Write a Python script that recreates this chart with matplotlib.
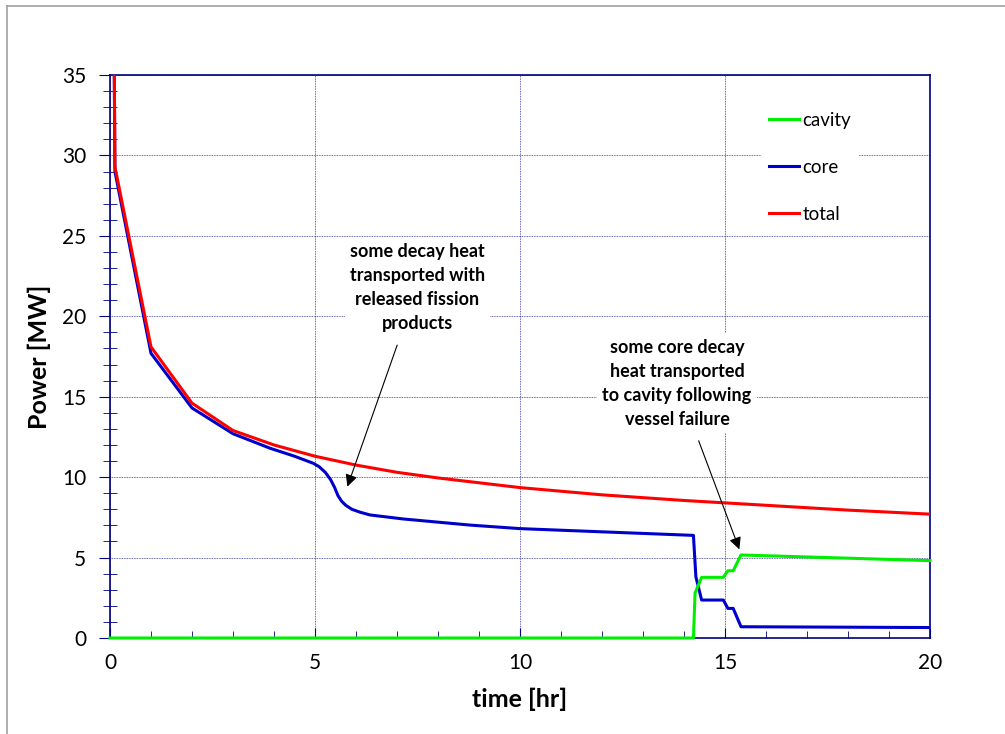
import matplotlib.pyplot as plt
from matplotlib.lines import Line2D
from matplotlib.ticker import MultipleLocator

plt.rcParams['font.family'] = ['Lato', 'DejaVu Sans']

# time [hr] and power [MW]
t_total = [0.08, 0.12, 1.0, 2.0, 3.0, 4.0, 5.0, 6.0, 7.0, 8.0, 10.0, 12.0,
           14.0, 16.0, 18.0, 20.0]
p_total = [45.0, 29.3, 18.1, 14.6, 12.9, 12.0, 11.3, 10.75, 10.3, 9.95, 9.35,
           8.9, 8.55, 8.25, 7.95, 7.7]

t_core = [0.08, 0.12, 1.0, 2.0, 3.0, 3.9, 4.5, 4.96, 5.1, 5.25, 5.38, 5.48,
          5.56, 5.65, 5.75, 5.9, 6.1, 6.34, 7.15, 8.78, 10.0, 12.0, 14.23,
          14.29, 14.43, 14.96, 15.07, 15.2, 15.39, 20.0]
p_core = [45.0, 29.0, 17.7, 14.3, 12.7, 11.8, 11.3, 10.86, 10.65, 10.3,
          9.85, 9.35, 8.85, 8.5, 8.25, 8.0, 7.82, 7.65, 7.4, 7.02, 6.8, 6.6,
          6.38, 3.8, 2.36, 2.36, 1.84, 1.84, 0.7, 0.65]

t_cavity = [0.0, 14.23, 14.27, 14.43, 14.96, 15.07, 15.2, 15.39, 20.0]
p_cavity = [0.0, 0.0, 2.8, 3.77, 3.77, 4.18, 4.18, 5.16, 4.81]

NAVY = "#000080"

fig = plt.figure(figsize=(10.05, 7.34), dpi=100)
ax = fig.add_axes([110 / 1005, 1 - 638 / 734, 820 / 1005, 563 / 734])

# chart area border
fig.add_artist(Line2D([7 / 1005, 7 / 1005], [0, 1 - 6 / 734], color="#a0a0a0", lw=1.2))
fig.add_artist(Line2D([7 / 1005, 1], [1 - 6 / 734, 1 - 6 / 734], color="#a0a0a0", lw=1.2))

ax.plot(t_cavity, p_cavity, color="#00ee00", lw=2.2, label="cavity", zorder=4, clip_on=False)
ax.plot(t_core, p_core, color="#0000cc", lw=2.2, label="core", zorder=3)
ax.plot(t_total, p_total, color="#ff0000", lw=2.2, label="total", zorder=3)

ax.set_xlim(0, 20)
ax.set_ylim(0, 35)
ax.xaxis.set_major_locator(MultipleLocator(5))
ax.xaxis.set_minor_locator(MultipleLocator(1))
ax.yaxis.set_major_locator(MultipleLocator(5))
ax.yaxis.set_minor_locator(MultipleLocator(1))

ax.grid(True, which="major", color=NAVY, linestyle=(0, (1, 1)), linewidth=0.6, alpha=0.8)
for s in ax.spines.values():
    s.set_color(NAVY)
    s.set_linewidth(1.2)
ax.tick_params(axis="x", which="major", direction="in", length=7, color=NAVY,
               labelsize=15, pad=11)
ax.tick_params(axis="x", which="minor", direction="in", length=5, color=NAVY)
ax.tick_params(axis="y", which="major", direction="out", length=8, color=NAVY,
               labelsize=15, pad=9)
ax.tick_params(axis="y", which="minor", direction="inout", length=10, color=NAVY)

ax.set_xlabel("time [hr]", fontsize=18, fontweight="bold", labelpad=10)
ax.set_ylabel("Power [MW]", fontsize=18, fontweight="bold", labelpad=8)

leg = ax.legend(loc="upper left", bbox_to_anchor=(0.783, 0.965), frameon=True,
                fontsize=13.5, handlelength=1.6, handletextpad=0.2,
                labelspacing=1.6, borderpad=0.4)
leg.get_frame().set_facecolor("white")
leg.get_frame().set_edgecolor("none")
leg.get_frame().set_alpha(1)
leg.set_zorder(5)

ax.annotate("some decay heat\ntransported with\nreleased fission\nproducts",
            xy=(5.79, 9.41), xytext=(7.5, 21.8), ha="center", va="center",
            fontsize=13, fontweight="bold", linespacing=1.5,
            bbox=dict(boxstyle="square,pad=0.3", fc="white", ec="none"),
            arrowprops=dict(arrowstyle="-|>", color="black", lw=0.8,
                            mutation_scale=18, shrinkA=6, shrinkB=0),
            zorder=6)
ax.annotate("some core decay\nheat transported\nto cavity following\nvessel failure",
            xy=(15.35, 5.51), xytext=(13.83, 15.85), ha="center", va="center",
            fontsize=13, fontweight="bold", linespacing=1.5,
            bbox=dict(boxstyle="square,pad=0.3", fc="white", ec="none"),
            arrowprops=dict(arrowstyle="-|>", color="black", lw=0.8,
                            mutation_scale=18, shrinkA=6, shrinkB=0),
            zorder=6)

fig.savefig("out.png", dpi=100)
